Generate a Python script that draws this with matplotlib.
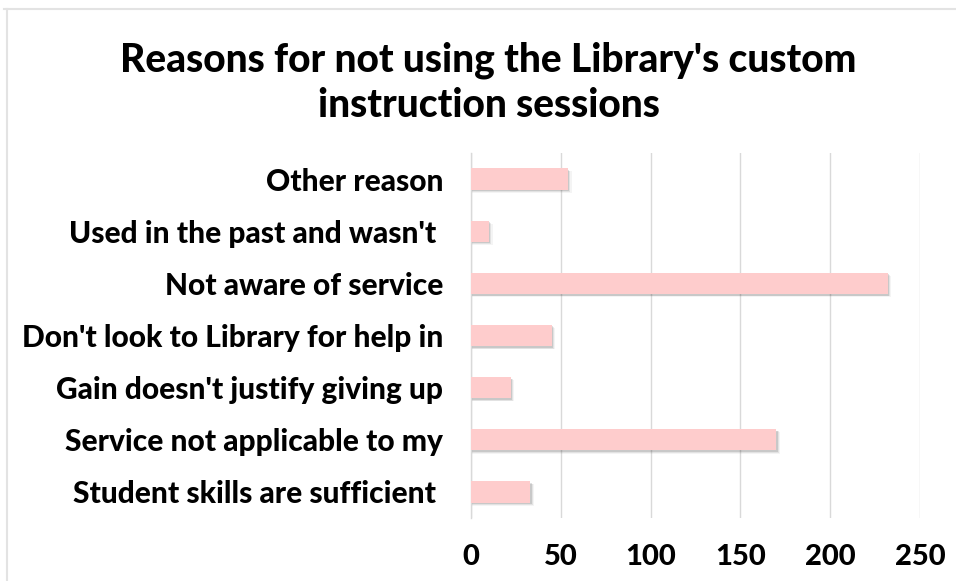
import numpy as np
import matplotlib
matplotlib.use("Agg")
from matplotlib import pyplot as plt
from matplotlib.lines import Line2D

plt.rcParams['font.family'] = ['Lato', 'DejaVu Sans']

# categories top to bottom, as in the chart
reasons = ["Other reason",
           "Used in the past and wasn't ",
           "Not aware of service",
           "Don't look to Library for help in",
           "Gain doesn't justify giving up",
           "Service not applicable to my",
           "Student skills are sufficient "]
counts = [54, 10, 232, 45, 22, 170, 33]
xticks = [0, 50, 100, 150, 200, 250]

fig = plt.figure(figsize=(9.56, 5.81), dpi=100)
ax = fig.add_axes([0.4927, 0.1084, 0.4696, 0.6283])

y = np.arange(len(reasons))
h = 0.41

# soft drop shadow under the bars
for dx, dy, a in [(2.0, 0.06, 0.06), (1.3, 0.045, 0.1), (0.7, 0.03, 0.16)]:
    ax.barh(y + dy, np.array(counts) + dx, height=h, color='#444444',
            alpha=a, zorder=2, linewidth=0)
ax.barh(y, counts, height=h, color='#fecccc', zorder=3, linewidth=0)

ax.set_xlim(0, 250)
ax.set_ylim(-0.5, len(reasons) - 0.5)
ax.invert_yaxis()
ax.set_yticks(y)
ax.set_yticklabels(reasons, fontsize=21.5, fontweight='black')
ax.set_xticks(xticks)
ax.set_xticklabels([str(t) for t in xticks], fontsize=21, fontweight='black')
ax.tick_params(axis='both', length=0)
ax.tick_params(axis='y', pad=20)
ax.tick_params(axis='x', pad=19)

ax.grid(axis='x', color='#d9d9d9', linewidth=1)
ax.set_axisbelow(True)
for s in ['top', 'right', 'bottom']:
    ax.spines[s].set_visible(False)
ax.spines['left'].set_color('#d9d9d9')
ax.spines['left'].set_linewidth(1)

fig.text(0.511, 0.858, "Reasons for not using the Library's custom\ninstruction sessions",
         ha='center', va='center', fontsize=28, fontweight='black', linespacing=1.25)

# chart border (partly cut off in the picture)
fig.add_artist(Line2D([0.004, 1.0], [0.984, 0.984], color='#e3e3e3', lw=1.5,
                      transform=fig.transFigure))
fig.add_artist(Line2D([0.007, 0.007], [0.0, 0.984], color='#e3e3e3', lw=1.5,
                      transform=fig.transFigure))

fig.savefig("out.png", dpi=100, facecolor='white')
